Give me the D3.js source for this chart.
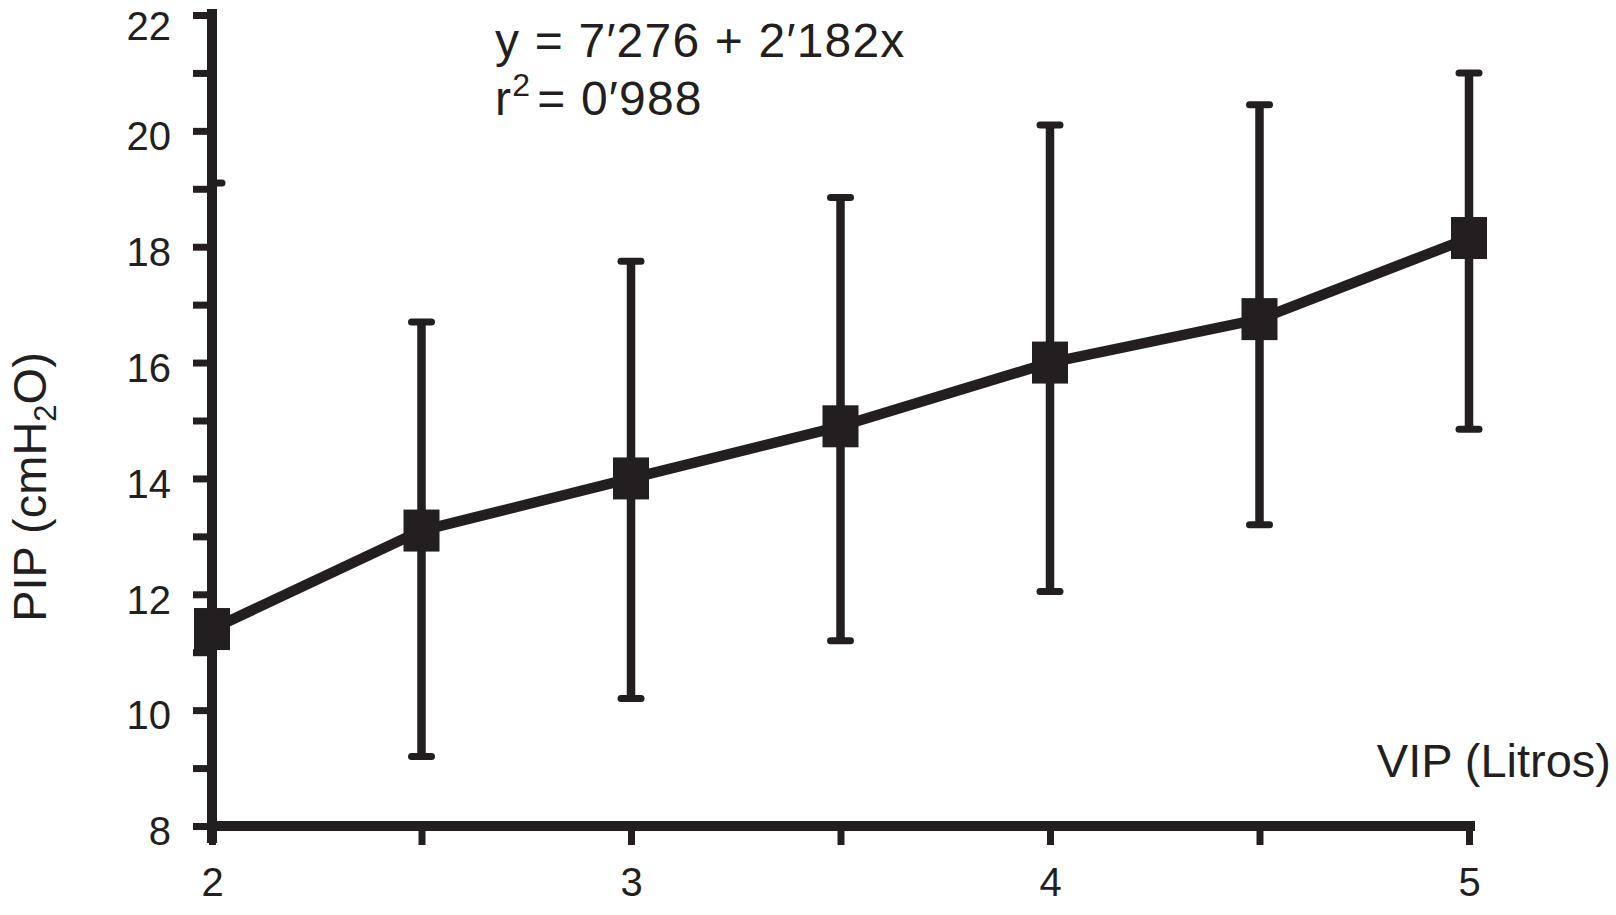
<!DOCTYPE html>
<html>
<head>
<meta charset="utf-8">
<script src="https://cdn.jsdelivr.net/npm/d3@7"></script>
<style>
  html, body { margin: 0; padding: 0; background: #fff; }
  svg { display: block; }
  text { font-family: "Liberation Sans", Arial, Helvetica, sans-serif; fill: #231f20; }
</style>
</head>
<body>
<svg id="chart" width="1616" height="915"></svg>
<script>
// ---- data ----
const vip = [2, 2.5, 3, 3.5, 4, 4.5, 5];
const pipMean = [11.4, 13.1, 14.0, 14.9, 16.0, 16.75, 18.15];
const pipUpper = [19.1, 16.7, 17.75, 18.85, 20.1, 20.45, 21.0];
const pipLower = [3.7, 9.2, 10.2, 11.2, 12.05, 13.2, 14.85];
const xTicks = [2, 2.5, 3, 3.5, 4, 4.5, 5];
const xTickLabels = ["2", "", "3", "", "4", "", "5"];
const yTicks = [8, 9, 10, 11, 12, 13, 14, 15, 16, 17, 18, 19, 20, 21, 22];
const yTickLabels = ["8", "", "10", "", "12", "", "14", "", "16", "", "18", "", "20", "", "22"];
const equationLine1 = "y = 7\u2032276 + 2\u2032182x";
const r2Text = "= 0\u2032988";
const xTitle = "VIP (Litros)";

const ink = "#231f20";
const svg = d3.select("#chart");

const x = d3.scaleLinear().domain([2, 5]).range([212, 1469]);
const y = d3.scaleLinear().domain([8, 22]).range([826, 15]);

// ---- axes ----
const yAxis = d3.axisLeft(y).tickValues(yTicks)
  .tickFormat((d, i) => yTickLabels[i]).tickSize(19).tickPadding(22).tickSizeOuter(0);
const gy = svg.append("g").attr("transform", `translate(${x(2)},0)`).call(yAxis);
gy.select(".domain").remove();
gy.selectAll(".tick line").attr("stroke", ink).attr("stroke-width", 7);
gy.selectAll(".tick text").attr("font-size", 40)
  .attr("dy", d => d === 22 ? "0.6em" : "0.47em")
  .attr("font-family", "Liberation Sans, Arial, sans-serif").attr("fill", ink);

const xAxis = d3.axisBottom(x).tickValues(xTicks)
  .tickFormat((d, i) => xTickLabels[i]).tickSize(19).tickPadding(23).tickSizeOuter(0);
const gx = svg.append("g").attr("transform", `translate(0,${y(8)})`).call(xAxis);
gx.select(".domain").remove();
gx.selectAll(".tick line").attr("stroke", ink).attr("stroke-width", 7);
gx.selectAll(".tick text").attr("font-size", 40)
  .attr("font-family", "Liberation Sans, Arial, sans-serif").attr("fill", ink);

// axis lines (thick)
svg.append("line")
  .attr("x1", x(2)).attr("x2", x(2))
  .attr("y1", y(22) - 6).attr("y2", y(8) + 17)
  .attr("stroke", ink).attr("stroke-width", 10);
svg.append("line")
  .attr("x1", x(2) - 5).attr("x2", x(5) + 6)
  .attr("y1", y(8)).attr("y2", y(8))
  .attr("stroke", ink).attr("stroke-width", 10);

// ---- error bars ----
const capHalf = 10;
const eb = svg.append("g");
vip.forEach((v, i) => {
  const lo = Math.max(pipLower[i], 8);
  eb.append("line")
    .attr("x1", x(v)).attr("x2", x(v))
    .attr("y1", y(pipUpper[i])).attr("y2", y(lo))
    .attr("stroke", ink).attr("stroke-width", 8.5);
  const capX1 = i === 0 ? x(v) : x(v) - capHalf;
  eb.append("line")
    .attr("x1", capX1).attr("x2", x(v) + capHalf)
    .attr("y1", y(pipUpper[i])).attr("y2", y(pipUpper[i]))
    .attr("stroke", ink).attr("stroke-width", 7).attr("stroke-linecap", "round");
  if (pipLower[i] >= 8) {
    eb.append("line")
      .attr("x1", x(v) - capHalf).attr("x2", x(v) + capHalf)
      .attr("y1", y(pipLower[i])).attr("y2", y(pipLower[i]))
      .attr("stroke", ink).attr("stroke-width", 7).attr("stroke-linecap", "round");
  }
});

// ---- line ----
const line = d3.line().x((d, i) => x(vip[i])).y(d => y(d));
svg.append("path").datum(pipMean)
  .attr("d", line).attr("fill", "none")
  .attr("stroke", ink).attr("stroke-width", 10.5).attr("stroke-linejoin", "round");

// ---- markers ----
const mw = 36, mh = 42;
svg.append("g").selectAll("rect").data(pipMean).join("rect")
  .attr("x", (d, i) => x(vip[i]) - mw / 2)
  .attr("y", d => y(d) - mh / 2)
  .attr("width", mw).attr("height", mh)
  .attr("fill", ink);

// ---- texts ----
svg.append("text").attr("x", 495).attr("y", 57)
  .attr("font-size", 48).attr("letter-spacing", 1.2).text(equationLine1);
const t2 = svg.append("text").attr("x", 495).attr("y", 115).attr("font-size", 48).attr("letter-spacing", 1.2);
t2.append("tspan").text("r");
t2.append("tspan").attr("font-size", 32).attr("dy", -19).text("2");
t2.append("tspan").attr("dy", 19).attr("dx", 6).text(r2Text);

svg.append("text").attr("x", 1611).attr("y", 777)
  .attr("text-anchor", "end").attr("font-size", 47).text(xTitle);

const yl = svg.append("text")
  .attr("transform", "translate(46,487) rotate(-90)")
  .attr("text-anchor", "middle").attr("font-size", 47);
yl.append("tspan").text("PIP (cmH");
yl.append("tspan").attr("font-size", 31).attr("dy", 10).text("2");
yl.append("tspan").attr("dy", -10).text("O)");
</script>
</body>
</html>
